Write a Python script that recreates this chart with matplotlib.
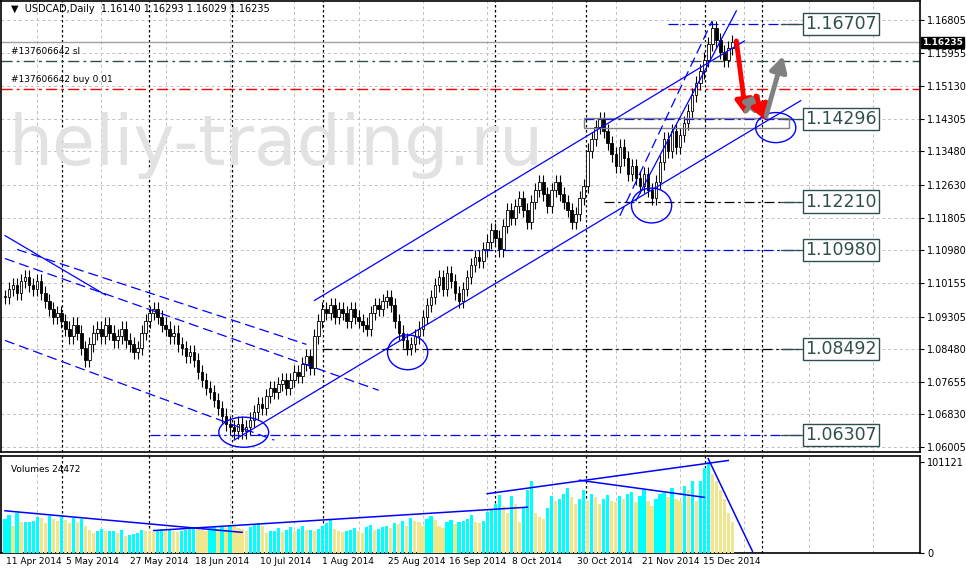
import matplotlib
matplotlib.use("Agg")
import matplotlib.pyplot as plt
from matplotlib.patches import Ellipse
import numpy as np

# daily closes, USDCAD
closes = [1.098,1.100,1.101,1.099,1.102,1.103,1.101,1.100,1.102,1.099,
          1.097,1.095,1.093,1.094,1.092,1.090,1.088,1.091,1.089,1.085,
          1.082,1.086,1.089,1.090,1.088,1.091,1.089,1.087,1.088,1.090,
          1.087,1.086,1.084,1.085,1.089,1.092,1.094,1.095,1.093,1.091,
          1.090,1.088,1.089,1.086,1.085,1.083,1.084,1.082,1.079,1.077,
          1.075,1.074,1.072,1.070,1.068,1.066,1.065,1.064,1.066,1.064,
          1.065,1.067,1.069,1.071,1.070,1.073,1.075,1.074,1.076,1.077,
          1.075,1.077,1.079,1.078,1.081,1.083,1.080,1.088,1.092,1.095,
          1.094,1.096,1.093,1.095,1.094,1.092,1.095,1.093,1.092,1.091,
          1.090,1.094,1.096,1.095,1.097,1.098,1.096,1.092,1.089,1.087,
          1.085,1.086,1.088,1.090,1.093,1.096,1.098,1.101,1.103,1.100,
          1.104,1.102,1.099,1.097,1.100,1.103,1.106,1.108,1.107,1.110,
          1.112,1.115,1.113,1.110,1.116,1.120,1.118,1.121,1.123,1.120,
          1.117,1.122,1.125,1.127,1.124,1.121,1.125,1.127,1.124,1.122,
          1.120,1.117,1.119,1.123,1.126,1.135,1.138,1.141,1.143,1.140,
          1.137,1.134,1.131,1.136,1.133,1.129,1.131,1.128,1.126,1.129,
          1.125,1.123,1.127,1.132,1.138,1.135,1.140,1.136,1.139,1.142,
          1.145,1.149,1.152,1.155,1.158,1.162,1.166,1.163,1.160,1.158,
          1.161,1.1624]
# volumes, thousands
volumes = [38,42,30,44,35,35,35,36,40,39, 33,41,38,36,40,37,33,39,35,38,
           30,26,22,24,27,24,24,25,22,26,
           19,20,21,22,26,25,24,23,24,27, 26,27,25,23,24,26,27,29,27,26,
           24,28,29,27,30,28,31,30,28,27, 24,29,31,33,30,22,24,25,28,23,
           26,29,25,27,30,26,
           26,24,27,30,33,37,27,25,23,24, 26,28,25,22,29,31,26,27,29,30,
           28,33,32,36,
           30,39,36,34,30,38,41,37,30,28, 34,37,32,35,36,38,42,35,33,36,46,48,
           55,65,52,45,63,55,35,50,70,80, 45,40,38,50,64,58,60,66,72,62,
           55,60,70,58,66,62,55,60,65,58, 57,64,60,66,68,57,63,70,58,52,
           60,66,67,62,72,60,58,75,70,80,58,
           80,95,101,88,80,70,60,45,35]

price_ticks = [1.16805,1.15955,1.15130,1.14305,1.13480,1.12630,1.11805,1.10980,
               1.10155,1.09305,1.08480,1.07655,1.06830,1.06005]
date_labels = ["11 Apr 2014","5 May 2014","27 May 2014","18 Jun 2014","10 Jul 2014",
               "1 Aug 2014","25 Aug 2014","16 Sep 2014","8 Oct 2014","30 Oct 2014",
               "21 Nov 2014","15 Dec 2014"]
date_pos = [0.3,15.3,31.2,47.3,63.4,79,95.3,110.6,126.2,142.3,158.4,173.8]
sep_pos = [14.1,35.9,56.4,79.2,122,144.6,174.3,188.4]

# levels: (price, start bar, colour)
levels = [(1.16707,165,"blue"),(1.14296,144,"blue"),(1.12210,149,"black"),
          (1.10980,99,"blue"),(1.08492,79,"black"),(1.06307,36,"blue")]
trend_solid = [((77,1.0971),(184,1.1627)),((57,1.0618),(198,1.1476)),
               ((157,1.1223),(182,1.1703)),((0,1.1135),(25,1.0985))]
trend_dashed = [((153,1.1185),(176,1.1678)),((0,1.1077),(93,1.0744)),
                ((0,1.0870),(67,1.0618)),((3,1.1100),(75,1.0860))]
ellipses = [(59.4,1.0638,12.4,0.0076),(100.2,1.0840,10,0.0088),
            (160.9,1.1211,10,0.0088),(191.8,1.1408,10,0.0076)]
arrows = [((182,1.1627),(184.4,1.1438),"red"),((184.4,1.1450),(188.1,1.1496),"gray"),
          ((186.9,1.1488),(189.4,1.1425),"red"),((189.4,1.1438),(193.6,1.1589),"gray")]
vol_lines = [((0,47),(59,23)),((37,25),(130,51)),((120,66),(180,103)),
             ((143,81),(174,62)),((175,105),(186,2))]

W, H = 966, 575
fig = plt.figure(figsize=(W/100, H/100), dpi=100)
ax = fig.add_axes([1/W, 1-452/H, 919/W, 451/H])
axv = fig.add_axes([1/W, 1-553/H, 919/W, 97/H])

n = len(closes)
x = np.arange(n)
opens = [closes[0]] + closes[:-1]
XMAX = 227.7
for a in (ax, axv):
    a.set_xlim(-1, XMAX)
    a.set_xticks([])
    a.yaxis.tick_right()
    a.tick_params(axis="y", labelsize=7, length=3, pad=2)
    for s in a.spines.values():
        s.set_linewidth(1.2)
    for xs in sep_pos:
        a.axvline(xs, color="black", ls=(0, (2, 2)), lw=0.9, zorder=1)
    for xg in np.arange(8, XMAX, 16):
        a.axvline(xg, color="#c0c0c0", ls=(0, (3, 3)), lw=0.7, zorder=0)

ax.set_ylim(1.0588, 1.1728)
ax.set_yticks(price_ticks)
ax.set_yticklabels([f"{p:.5f}" for p in price_ticks])
for p in price_ticks:
    ax.axhline(p, color="#c0c0c0", ls=(0, (3, 3)), lw=0.7, zorder=0)

# candles
for i in range(n):
    o, c = opens[i], closes[i]
    lo, hi = min(o, c), max(o, c)
    ax.vlines(i, lo - 0.0018, hi + 0.0018, color="black", lw=0.8, zorder=3)
    ax.bar(i, max(hi - lo, 0.0003), bottom=lo, width=0.65,
           color="white" if c >= o else "black", edgecolor="black", lw=0.6, zorder=4)

ax.text(1, 1.1362, "heliy-trading.ru", fontsize=50, color="#e2e2e2", zorder=1.5,
        va="center")

# order lines
ax.axhline(closes[-1], color="#a0a0a0", lw=1, zorder=2)
ax.axhline(1.1577, color="#2f4f4f", ls=(0, (8, 3, 2, 3)), lw=1, zorder=2)
ax.axhline(1.1506, color="red", ls=(0, (8, 3, 2, 3)), lw=1, zorder=2)
ax.text(1.5, 1.1595, "#137606642 sl", fontsize=6.5)
ax.text(1.5, 1.1524, "#137606642 buy 0.01", fontsize=6.5)
ax.text(1.5, 1.1700, "▼  USDCAD,Daily  1.16140 1.16293 1.16029 1.16235", fontsize=7)
ax.text(XMAX + 0.6, closes[-1], "1.16235", fontsize=6.5, color="white", va="center",
        fontweight="bold", bbox=dict(fc="black", ec="black", pad=0.8), clip_on=False)

for p, s, col in levels:
    ax.plot([s, 198], [p, p], color=col, ls=(0, (8, 3, 2, 3)), lw=0.9, zorder=5)
    ax.plot([193, 199], [p, p], color="#2f4f4f", lw=0.9, zorder=5)
    ax.text(199.2, p, f"{p:.5f}", fontsize=12.5, color="#2f4f4f", va="center", zorder=6,
            bbox=dict(fc="white", ec="#2f4f4f", lw=1, pad=1.5))
ax.add_patch(plt.Rectangle((144, 1.1406), 51, 0.0025, fill=False, ec="gray", lw=1, zorder=5))

for (x0, y0), (x1, y1) in trend_solid:
    ax.plot([x0, x1], [y0, y1], color="blue", lw=0.9, zorder=5)
for (x0, y0), (x1, y1) in trend_dashed:
    ax.plot([x0, x1], [y0, y1], color="blue", lw=0.9, ls=(0, (8, 4)), zorder=5)
for cx, cy, w, h in ellipses:
    ax.add_patch(Ellipse((cx, cy), w, h, fill=False, ec="blue", lw=1, zorder=6))
for (x0, y0), (x1, y1), col in arrows:
    ax.annotate("", xy=(x1, y1), xytext=(x0, y0), zorder=7,
                arrowprops=dict(arrowstyle="-|>,head_width=0.5,head_length=0.9",
                                color=col, lw=3.5, shrinkA=0, shrinkB=0))

# volumes
vmax = 101.121
vcol = ["#00ffff" if i == 0 or volumes[i] >= volumes[i-1] else "#f0e68c" for i in range(n)]
axv.bar(x, volumes, width=0.8, color=vcol, zorder=3)
axv.set_ylim(0, 108)
axv.set_yticks([0, vmax])
axv.set_yticklabels(["0", "101121"])
for (x0, y0), (x1, y1) in vol_lines:
    axv.plot([x0, x1], [y0, y1], color="blue", lw=1.1, zorder=5)
axv.text(1.5, 98, "Volumes 24472", fontsize=6.5, va="top")

for lbl, p in zip(date_labels, date_pos):
    axv.text(p, -4, lbl, fontsize=6.5, va="top", ha="left", clip_on=False)

fig.savefig("out.png", dpi=100)
